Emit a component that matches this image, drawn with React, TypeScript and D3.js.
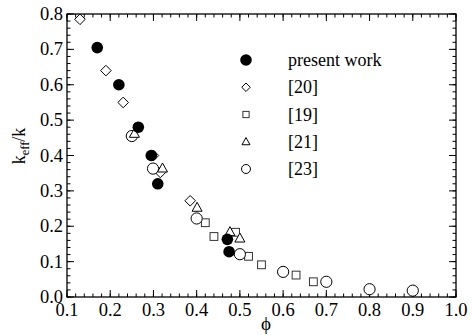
import React from "react";
import * as d3 from "d3";

const presentX = [0.17, 0.22, 0.265, 0.295, 0.31, 0.471, 0.475];
const presentY = [0.705, 0.60, 0.48, 0.40, 0.32, 0.163, 0.128];

const ref20X = [0.13, 0.19, 0.23, 0.30, 0.316, 0.385];
const ref20Y = [0.785, 0.64, 0.55, 0.40, 0.352, 0.272];

const ref19X = [0.42, 0.44, 0.49, 0.52, 0.55, 0.63, 0.67];
const ref19Y = [0.21, 0.171, 0.183, 0.115, 0.091, 0.062, 0.043];

const ref21X = [0.256, 0.321, 0.401, 0.477, 0.50];
const ref21Y = [0.462, 0.364, 0.253, 0.184, 0.166];

const ref23X = [0.25, 0.299, 0.40, 0.50, 0.60, 0.70, 0.80, 0.90];
const ref23Y = [0.455, 0.363, 0.222, 0.121, 0.071, 0.043, 0.022, 0.018];

const xTicks = [0.1, 0.2, 0.3, 0.4, 0.5, 0.6, 0.7, 0.8, 0.9, 1.0];
const yTicks = [0.0, 0.1, 0.2, 0.3, 0.4, 0.5, 0.6, 0.7, 0.8];
const legendLabels = ["present work", "[20]", "[19]", "[21]", "[23]"];

const W = 472;
const H = 335;
const L = 67, R = 456, T = 14, B = 297;
const FONT = "Liberation Serif, Times New Roman, serif";

type Kind = "fcircle" | "diamond" | "square" | "triangle" | "circle";

function Marker({ kind, x, y, s = 1 }: { kind: Kind; x: number; y: number; s?: number }) {
  const sw = 1;
  if (kind === "fcircle") return <circle cx={x} cy={y} r={5.8 * s} fill="#000" />;
  if (kind === "circle") return <circle cx={x} cy={y} r={5.6 * s} fill="#fff" stroke="#000" strokeWidth={sw} />;
  if (kind === "square") {
    const h = 3.9 * s;
    return <rect x={x - h} y={y - h} width={2 * h} height={2 * h} fill="#fff" stroke="#333" strokeWidth={sw} />;
  }
  if (kind === "diamond") {
    const h = 5.3 * s;
    return <path d={`M${x},${y - h}L${x + h},${y}L${x},${y + h}L${x - h},${y}Z`} fill="#fff" stroke="#000" strokeWidth={sw} />;
  }
  const h = 5 * s;
  return <path d={`M${x},${y - h * 1.05}L${x + h},${y + h * 0.75}L${x - h},${y + h * 0.75}Z`} fill="#fff" stroke="#000" strokeWidth={sw} />;
}

export default function App() {
  const x = d3.scaleLinear().domain([0.1, 1.0]).range([L, R]);
  const y = d3.scaleLinear().domain([0, 0.8]).range([B, T]);

  const xMinor = d3.range(0.1, 1.0001, 0.02);
  const yMinor = d3.range(0, 0.8001, 0.02);

  const series: { kind: Kind; xs: number[]; ys: number[] }[] = [
    { kind: "diamond", xs: ref20X, ys: ref20Y },
    { kind: "square", xs: ref19X, ys: ref19Y },
    { kind: "circle", xs: ref23X, ys: ref23Y },
    { kind: "triangle", xs: ref21X, ys: ref21Y },
    { kind: "fcircle", xs: presentX, ys: presentY },
  ];
  const legendKinds: Kind[] = ["fcircle", "diamond", "square", "triangle", "circle"];
  const legendY = d3.scaleLinear().domain([0, 4]).range([60, 169]);

  return (
    <svg width={W} height={H} style={{ position: "absolute", left: 0, top: 0, background: "#fff" }} fontFamily={FONT}>
      <rect width={W} height={H} fill="#fff" />
      {xMinor.map((v, i) => (
        <g key={"xm" + i} stroke="#000" strokeWidth={1}>
          <line x1={x(v)} x2={x(v)} y1={B} y2={B - 3.5} />
          <line x1={x(v)} x2={x(v)} y1={T} y2={T + 3.5} />
        </g>
      ))}
      {yMinor.map((v, i) => (
        <g key={"ym" + i} stroke="#000" strokeWidth={1}>
          <line x1={L} x2={L + 3.5} y1={y(v)} y2={y(v)} />
          <line x1={R} x2={R - 3.5} y1={y(v)} y2={y(v)} />
        </g>
      ))}
      {xTicks.map((v, i) => (
        <g key={"xt" + i}>
          <line x1={x(v)} x2={x(v)} y1={B} y2={B - 7} stroke="#000" />
          <line x1={x(v)} x2={x(v)} y1={T} y2={T + 7} stroke="#000" />
          <text x={x(v)} y={B + 19} textAnchor="middle" fontSize={18.5}>{v.toFixed(1)}</text>
        </g>
      ))}
      {yTicks.map((v, i) => (
        <g key={"yt" + i}>
          <line x1={L} x2={L + 7} y1={y(v)} y2={y(v)} stroke="#000" />
          <line x1={R} x2={R - 7} y1={y(v)} y2={y(v)} stroke="#000" />
          <text x={L - 4} y={y(v) + 6} textAnchor="end" fontSize={18.5}>{v.toFixed(1)}</text>
        </g>
      ))}
      <rect x={L} y={T} width={R - L} height={B - T} fill="none" stroke="#000" strokeWidth={1.3} />

      {series.map((s, si) =>
        s.xs.map((v, i) => <Marker key={si + "-" + i} kind={s.kind} x={x(v)} y={y(s.ys[i])} />)
      )}

      {legendLabels.map((lab, i) => (
        <g key={"lg" + i}>
          <Marker kind={legendKinds[i]} x={246} y={legendY(i)} s={i === 0 ? 1.0 : 0.8} />
          <text x={288} y={legendY(i) + 6} fontSize={18}>{lab}</text>
        </g>
      ))}

      <text x={266} y={330} textAnchor="middle" fontSize={19}>ϕ</text>
      <text transform="translate(25,146) rotate(-90)" textAnchor="middle" fontSize={18}>
        k<tspan fontSize={12.5} dy={4}>eff</tspan><tspan dy={-4}>/k</tspan>
      </text>
    </svg>
  );
}
